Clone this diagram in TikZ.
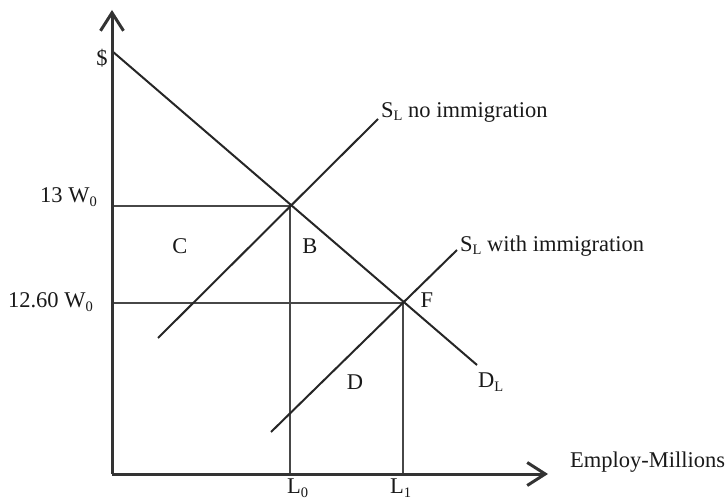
\documentclass[tikz,border=0pt]{standalone}
\usepackage{fontspec}
\setmainfont{Liberation Serif}
\usetikzlibrary{arrows.meta}
\newcommand{\lsub}[1]{\raisebox{-0.35ex}{\fontsize{14.5}{14.5}\selectfont #1}}
\begin{document}
\begin{tikzpicture}[x=1pt,y=-1pt,
  every node/.style={font=\fontsize{22.5}{26}\selectfont, inner sep=0pt, text=black!90},
  axis/.style={line width=3pt, draw=black!80},
  curve/.style={line width=2pt, draw=black!85},
  guide/.style={line width=2pt, draw=black!72},
  tip/.style={-{Straight Barb[length=18pt,width=23pt]}}]
\useasboundingbox (0,0) rectangle (726,500);
% key points
\coordinate (O) at (112,474);
\coordinate (ytop) at (112,10);
\coordinate (xend) at (548,474);
\coordinate (dtop) at (112,51);
\coordinate (dbot) at (477,365);
\coordinate (E0) at (290,206);
\coordinate (F) at (403,303);
\coordinate (sa) at (158,338);
\coordinate (sb) at (378,119);
\coordinate (sc) at (271,432);
\coordinate (sd) at (457,250);
\coordinate (w0) at (112,206);
\coordinate (w1) at (112,303);
\coordinate (l0) at (290,474);
\coordinate (l1) at (403,474);
% guides
\draw[guide] (w0) -- (E0);
\draw[guide] (w1) -- (F);
\draw[guide] (E0) -- (l0);
\draw[guide] (F) -- (l1);
% curves
\draw[curve] (dtop) -- (dbot);
\draw[curve] (sa) -- (sb);
\draw[curve] (sc) -- (sd);
% axes
\draw[axis, tip] (O) -- (ytop);
\draw[axis, tip] (O) -- (xend);
% labels
\node (dollar) at (102,58) {\$};
\node[anchor=east] (lw0) at (97,197) {13 W\lsub{0}};
\node[anchor=east] (lw1) at (93,302) {12.60 W\lsub{0}};
\node (C) at (180,246) {C};
\node (B) at (310,246) {B};
\node (Fl) at (427,300) {F};
\node (Dl) at (355,382) {D};
\node[anchor=west] (DL) at (478,382) {D\lsub{L}};
\node[anchor=west] (s1) at (381,112) {S\lsub{L} no immigration};
\node[anchor=west] (s2) at (460,246) {S\lsub{L} with immigration};
\node[anchor=west] (emp) at (570,462) {Employ-Millions};
\node[anchor=west] (L0) at (287,488) {L\lsub{0}};
\node[anchor=west] (L1) at (390,488) {L\lsub{1}};
\end{tikzpicture}
\end{document}
